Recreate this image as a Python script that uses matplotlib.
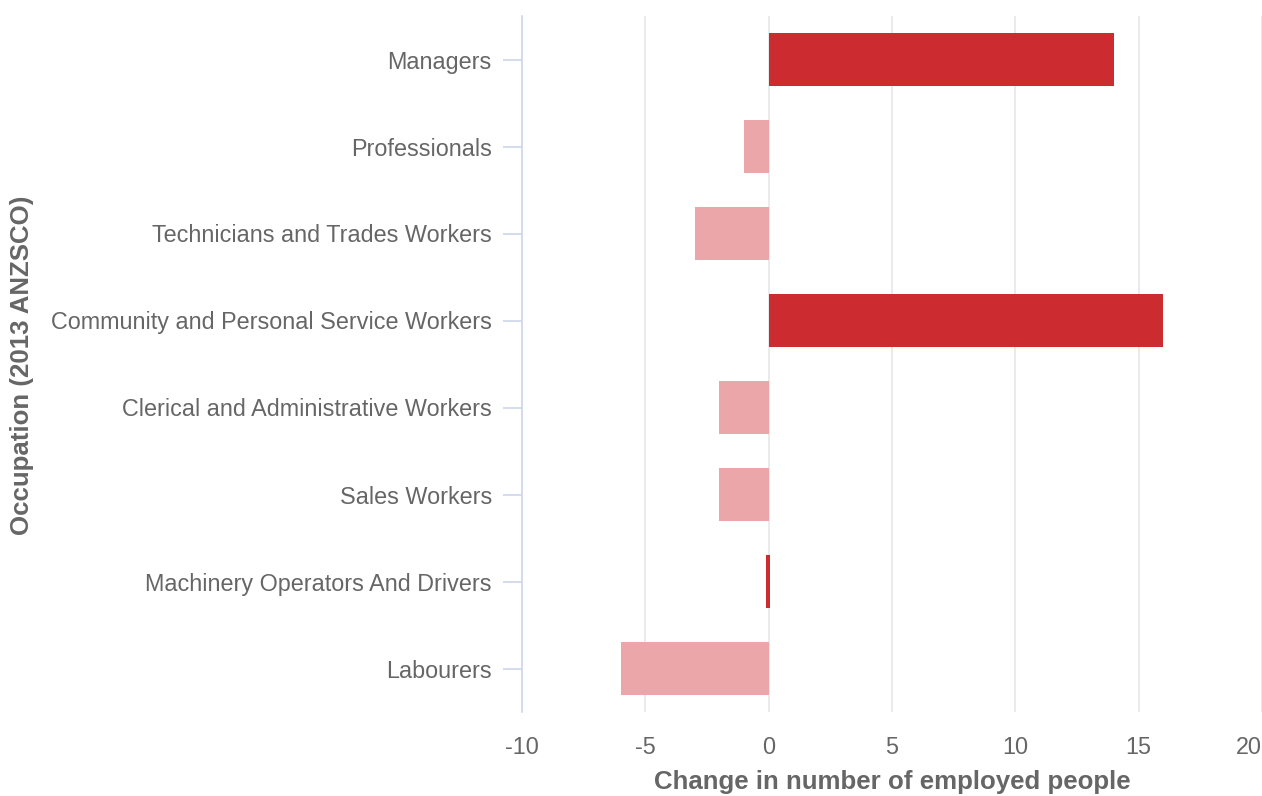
import numpy as np
import matplotlib.pyplot as plt

plt.rcParams['font.family'] = ['Liberation Sans', 'DejaVu Sans']

occupations = ["Managers", "Professionals", "Technicians and Trades Workers",
               "Community and Personal Service Workers", "Clerical and Administrative Workers",
               "Sales Workers", "Machinery Operators And Drivers", "Labourers"]
change = [14, -1, -3, 16, -2, -2, 0, -6]
xticks = [-10, -5, 0, 5, 10, 15, 20]

pos_color = "#cc2c30"
neg_color = "#eaa6a8"
text_color = "#666666"
axis_color = "#ccd6eb"

fig = plt.figure(figsize=(12.62, 7.96), dpi=100)
ax = fig.add_axes([522/1262, 84/796, 1 - 522/1262, (712-16)/796])

y = np.arange(len(occupations))
vals = np.array(change, dtype=float)
# zero values still get a thin visible bar
lefts = np.where(vals == 0, -0.1, 0)
draw_vals = np.where(vals == 0, 0.15, vals)
colors = [neg_color if v < 0 else pos_color for v in vals]
ax.barh(y, draw_vals, left=lefts, height=0.61, color=colors, zorder=3)

ax.set_ylim(len(occupations) - 0.5, -0.5)
ax.set_xlim(-10, 20)
ax.set_xticks(xticks)
ax.set_xticklabels([str(t) for t in xticks])
ax.set_yticks(y)
ax.set_yticklabels(occupations)

ax.grid(axis='x', color='#e6e6e6', linewidth=1.2, zorder=0)
ax.set_axisbelow(True)
for s in ['top', 'right', 'bottom']:
    ax.spines[s].set_visible(False)
ax.spines['left'].set_color(axis_color)
ax.spines['left'].set_linewidth(1.2)

ax.tick_params(axis='y', colors=axis_color, length=13.7, width=1.2, pad=8,
               labelcolor=text_color, labelsize=16.8)
ax.tick_params(axis='x', length=0, pad=17, labelcolor=text_color, labelsize=16.8)
for lab in ax.get_xticklabels():
    if lab.get_text() == "20":
        lab.set_horizontalalignment('right')

fig.text(892/1262, 1 - 782/796, "Change in number of employed people", fontsize=18.6,
         fontweight='bold', color=text_color, ha='center', va='center')
fig.text(22/1262, 1 - 365/796, "Occupation (2013 ANZSCO)", rotation=90, fontsize=18.6,
         fontweight='bold', color=text_color, ha='center', va='center')

fig.savefig("out.png", dpi=100)
